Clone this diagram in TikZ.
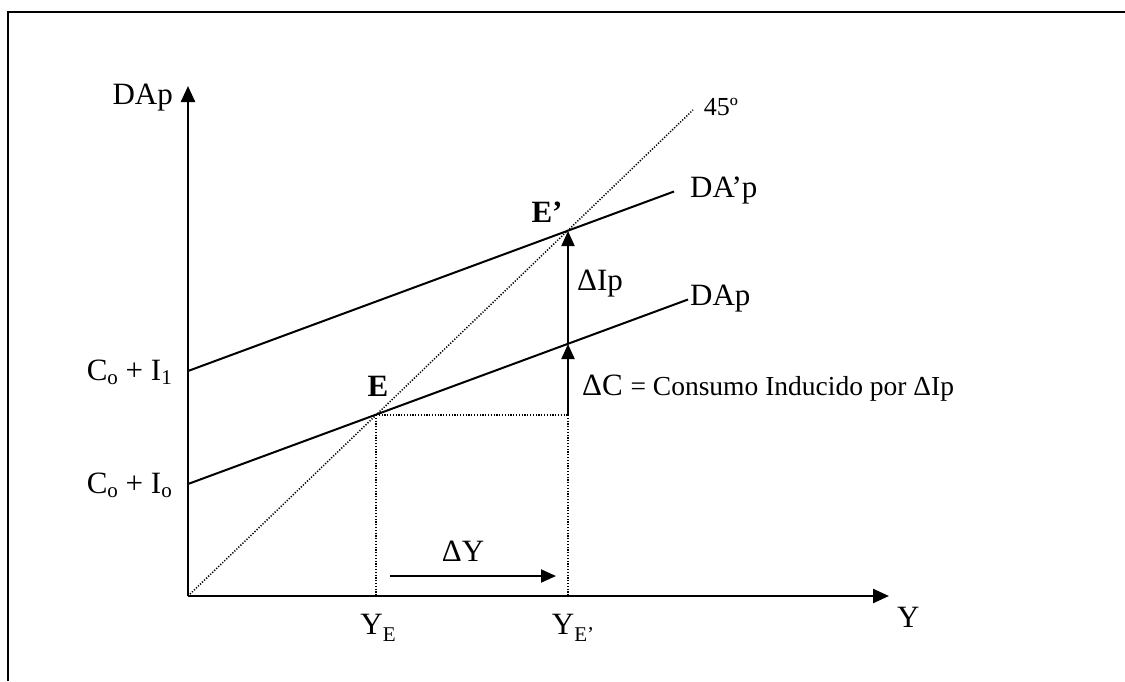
\documentclass[tikz,border=0pt]{standalone}
\usepackage{fontspec}
\setmainfont{Liberation Serif}
\usetikzlibrary{arrows.meta}
\begin{document}
\begin{tikzpicture}[x=1pt,y=-1pt,
  lbl/.style={font=\fontsize{31}{31}\selectfont, inner sep=0pt},
  small/.style={font=\fontsize{26}{26}\selectfont, inner sep=0pt},
  axis/.style={line width=2.4pt, -{Triangle[length=16pt,width=14pt]}},
  curve/.style={line width=2pt},
  guide/.style={line width=1.5pt, dash pattern=on 1.2pt off 1.6pt},
  shiftarrow/.style={line width=2pt, -{Triangle[length=15pt,width=13pt]}}]
\useasboundingbox (0,0) rectangle (1125,681);
% frame
\coordinate (FB) at (8,681);
\coordinate (FL) at (8,12);
\coordinate (FR) at (1125,12);
\draw[line width=2.2pt] (FB) -- (FL) -- (FR);
% key points
\coordinate (O) at (188,596);
\coordinate (Ytip) at (188,86);
\coordinate (Xtip) at (889,596);
\coordinate (A0) at (188,484);
\coordinate (A1) at (688,299.5);
\coordinate (B0) at (188,371);
\coordinate (B1) at (674,191.5);
\coordinate (F) at (693,110);
\coordinate (E) at (376,415);
\coordinate (Ep) at (568,231);
\coordinate (M) at (568,344);
\coordinate (H) at (568,415);
\coordinate (YE) at (376,596);
\coordinate (YEp) at (568,596);
\coordinate (D0) at (390,576);
\coordinate (D1) at (556,576);
% axes
\draw[axis] (O) -- (Ytip);
\draw[axis] (O) -- (Xtip);
% 45 degree line and guides
\draw[guide] (O) -- (F);
\draw[guide] (E) -- (YE);
\draw[guide] (E) -- (H);
\draw[guide] (H) -- (YEp);
% demand lines
\draw[curve] (A0) -- (A1);
\draw[curve] (B0) -- (B1);
% shift arrows
\draw[shiftarrow] (H) -- (M);
\draw[shiftarrow] (M) -- (Ep);
\draw[shiftarrow] (D0) -- (D1);
% labels
\node[lbl, anchor=east] (lDApy) at (173,98) {DAp};
\node[lbl, anchor=west] (lY) at (897,617) {Y};
\node[small] (l45) at (721,107) {45º};
\node[lbl, anchor=west] (lDA1) at (690,190) {DA’p};
\node[lbl, anchor=west] (lDA0) at (690,299) {DAp};
\node[lbl, anchor=west] (lDI) at (577,284) {ΔIp};
\node[lbl, font=\fontsize{31}{31}\selectfont\bfseries] (lE) at (378,386) {E};
\node[lbl, font=\fontsize{31}{31}\selectfont\bfseries] (lEp) at (547,212) {E’};
\node[lbl, anchor=east] (lC1) at (172,372) {C\raisebox{-0.3ex}{\fontsize{21}{21}\selectfont o} + I\raisebox{-0.3ex}{\fontsize{21}{21}\selectfont 1}};
\node[lbl, anchor=east] (lC0) at (172,485) {C\raisebox{-0.3ex}{\fontsize{21}{21}\selectfont o} + I\raisebox{-0.3ex}{\fontsize{21}{21}\selectfont o}};
\node[lbl] (lDY) at (463,551) {ΔY};
\node[lbl] (lYE) at (378,628) {Y\raisebox{-0.45ex}{\fontsize{21}{21}\selectfont E}};
\node[lbl] (lYEp) at (573,628) {Y\raisebox{-0.45ex}{\fontsize{21}{21}\selectfont E’}};
\node[lbl, anchor=west] (lDC) at (582,388) {ΔC {\fontsize{27.5}{27.5}\selectfont = Consumo Inducido por ΔIp}};
\end{tikzpicture}
\end{document}
